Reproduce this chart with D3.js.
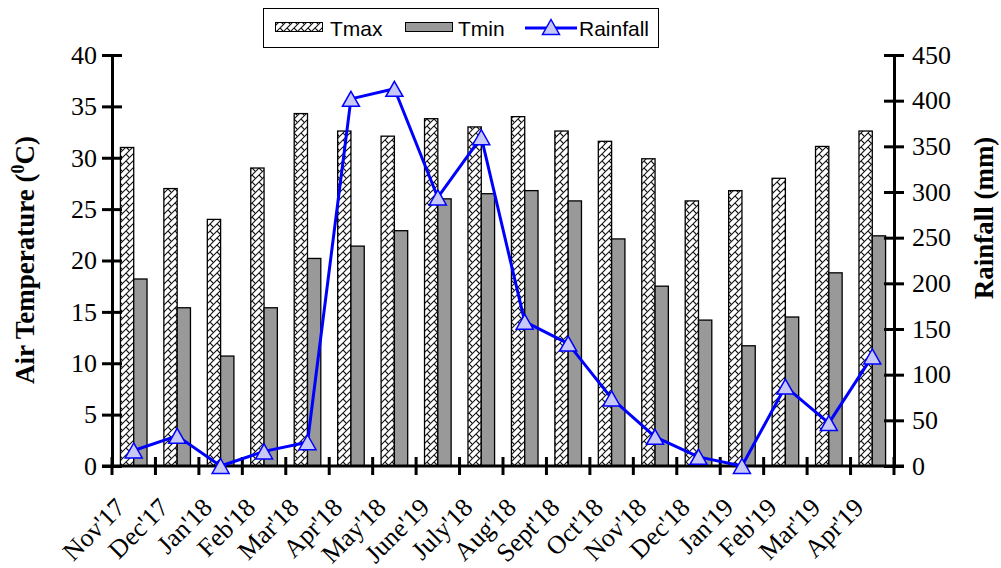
<!DOCTYPE html>
<html>
<head>
<meta charset="utf-8">
<script src="https://cdn.jsdelivr.net/npm/d3@7"></script>
<style>
body { margin: 0; background: #fff; }
svg { display: block; }
</style>
</head>
<body>
<svg id="plot"></svg>
<script>
var months = ["Nov'17", "Dec'17", "Jan'18", "Feb'18", "Mar'18", "Apr'18", "May'18", "June'19", "July'18",
    "Aug'18", "Sept'18", "Oct'18", "Nov'18", "Dec'18", "Jan'19", "Feb'19", "Mar'19", "Apr'19"];
var tmax = [31.0, 27.0, 24.0, 29.0, 34.3, 32.6, 32.1, 33.8, 33.0, 34.0, 32.6, 31.6, 29.9, 25.8, 26.8, 28.0, 31.1, 32.6];
var tmin = [18.2, 15.4, 10.7, 15.4, 20.2, 21.4, 22.9, 26.0, 26.5, 26.8, 25.8, 22.1, 17.5, 14.2, 11.7, 14.5, 18.8, 22.4];
var rainfall = [17, 33, 0, 16, 26, 402, 413, 294, 360, 158, 134, 74, 32, 10, 0, 87, 47, 120];
var tempTicks = [0, 5, 10, 15, 20, 25, 30, 35, 40];
var rainTicks = [0, 50, 100, 150, 200, 250, 300, 350, 400, 450];

(function() {
"use strict";

var SERIF = "'Times New Roman', 'Liberation Serif', serif";
var SANS = "Arial, 'Liberation Sans', sans-serif";
var GRAY = "#999999";
var BLUE = "#0000ff";
var LAVENDER = "#c8c8f6";

var m = {left: 112, right: 894, top: 55, bottom: 466};

var svg = d3.select("#plot").attr("width", 1001).attr("height", 568);

// hatch for Tmax
var pat = svg.append("defs").append("pattern")
    .attr("id", "hatch")
    .attr("patternUnits", "userSpaceOnUse")
    .attr("width", 7).attr("height", 7);
pat.append("rect").attr("width", 7).attr("height", 7).attr("fill", "#fff");
pat.append("path")
    .attr("d", "M0,7 L7,0 M-1,1 L1,-1 M6,8 L8,6 M0,0 L3,3")
    .attr("stroke", "#111").attr("stroke-width", 1.1).attr("fill", "none");

var x = d3.scaleBand().domain(months).range([m.left, m.right]).padding(0);
var y = d3.scaleLinear().domain([0, 40]).range([m.bottom, m.top]);
var yr = d3.scaleLinear().domain([0, 450]).range([m.bottom, m.top]);
var bw = 13.3;
var cx = function(i) { return x(months[i]) + x.bandwidth() / 2; };

var g = svg.append("g");

g.selectAll("rect.tmax")
    .data(tmax)
    .enter().append("rect")
        .attr("class", "tmax")
        .attr("x", function(d, i) { return cx(i) - bw; })
        .attr("y", function(d) { return y(d); })
        .attr("width", bw)
        .attr("height", function(d) { return y(0) - y(d); })
        .attr("fill", "url(#hatch)")
        .attr("stroke", "#000")
        .attr("stroke-width", 1.3);

g.selectAll("rect.tmin")
    .data(tmin)
    .enter().append("rect")
        .attr("class", "tmin")
        .attr("x", function(d, i) { return cx(i); })
        .attr("y", function(d) { return y(d); })
        .attr("width", bw)
        .attr("height", function(d) { return y(0) - y(d); })
        .attr("fill", GRAY)
        .attr("stroke", "#000")
        .attr("stroke-width", 1.3);

// axes
var styleAxis = function(sel) {
    sel.select(".domain").attr("stroke", "#000").attr("stroke-width", 3);
    sel.selectAll(".tick line").attr("stroke", "#000").attr("stroke-width", 3);
    sel.selectAll(".tick text")
        .attr("font-family", SERIF)
        .attr("font-size", 26)
        .attr("fill", "#000");
};

var gl = svg.append("g").attr("transform", "translate(" + m.left + ",0)");
gl.call(d3.axisLeft(y).tickValues(tempTicks).tickSize(10).tickSizeOuter(0).tickPadding(5));
gl.selectAll(".tick line").attr("x1", 10);
styleAxis(gl);

var gr = svg.append("g").attr("transform", "translate(" + m.right + ",0)");
gr.call(d3.axisRight(yr).tickValues(rainTicks).tickSize(10).tickSizeOuter(0).tickPadding(8));
gr.selectAll(".tick line").attr("x1", -10);
styleAxis(gr);

var gx = svg.append("g").attr("transform", "translate(0," + m.bottom + ")");
gx.append("line")
    .attr("x1", m.left - 10).attr("x2", m.right + 10)
    .attr("stroke", "#000").attr("stroke-width", 3);
gx.selectAll("line.xt")
    .data(d3.range(months.length + 1))
    .enter().append("line")
        .attr("class", "xt")
        .attr("x1", function(d) { return m.left + d * x.bandwidth(); })
        .attr("x2", function(d) { return m.left + d * x.bandwidth(); })
        .attr("y1", -9).attr("y2", 9)
        .attr("stroke", "#000").attr("stroke-width", 3);

svg.append("g").selectAll("text")
    .data(months)
    .enter().append("text")
        .attr("transform", function(d, i) { return "translate(" + (cx(i) - 7) + ",509) rotate(-45)"; })
        .attr("text-anchor", "end")
        .attr("font-family", SERIF)
        .attr("font-size", 26)
        .text(function(d) { return d; });

// rainfall line
var line = d3.line()
    .x(function(d, i) { return cx(i); })
    .y(function(d) { return yr(d); });
svg.append("path")
    .datum(rainfall)
    .attr("fill", "none")
    .attr("stroke", BLUE)
    .attr("stroke-width", 3)
    .attr("stroke-linejoin", "round")
    .attr("d", line);

var tri = "M0,-7.5 L8.5,7.5 L-8.5,7.5 Z";
svg.append("g").selectAll("path")
    .data(rainfall)
    .enter().append("path")
        .attr("transform", function(d, i) { return "translate(" + cx(i) + "," + yr(d) + ")"; })
        .attr("d", tri)
        .attr("fill", LAVENDER)
        .attr("stroke", BLUE)
        .attr("stroke-width", 1.5);

// axis titles
svg.append("text")
    .attr("transform", "translate(34,260) rotate(-90)")
    .attr("text-anchor", "middle")
    .attr("font-family", SERIF)
    .attr("font-weight", "bold")
    .attr("font-size", 27)
    .call(function(t) {
        t.append("tspan").text("Air Temperature (");
        t.append("tspan").attr("baseline-shift", "super").attr("font-size", 18).text("0");
        t.append("tspan").text("C)");
    });

svg.append("text")
    .attr("transform", "translate(993,218) rotate(-90)")
    .attr("text-anchor", "middle")
    .attr("font-family", SERIF)
    .attr("font-weight", "bold")
    .attr("font-size", 27)
    .text("Rainfall (mm)");

// legend
var lg = svg.append("g");
lg.append("rect")
    .attr("x", 263.5).attr("y", 8.5).attr("width", 395).attr("height", 39)
    .attr("fill", "#fff").attr("stroke", "#000").attr("stroke-width", 1);
lg.append("rect")
    .attr("x", 275.5).attr("y", 22.5).attr("width", 47).attr("height", 9)
    .attr("fill", "url(#hatch)").attr("stroke", "#000").attr("stroke-width", 1);
lg.append("rect")
    .attr("x", 405.5).attr("y", 22.5).attr("width", 47).attr("height", 9)
    .attr("fill", GRAY).attr("stroke", "#000").attr("stroke-width", 1);
lg.append("line")
    .attr("x1", 525).attr("x2", 577).attr("y1", 28).attr("y2", 28)
    .attr("stroke", BLUE).attr("stroke-width", 3);
lg.append("path")
    .attr("transform", "translate(551,27)")
    .attr("d", tri)
    .attr("fill", LAVENDER).attr("stroke", BLUE).attr("stroke-width", 1.5);
lg.selectAll("text.lt")
    .data([["Tmax", 330], ["Tmin", 458], ["Rainfall", 579]])
    .enter().append("text")
        .attr("class", "lt")
        .attr("x", function(d) { return d[1]; })
        .attr("y", 36)
        .attr("font-family", SANS)
        .attr("font-size", 21)
        .text(function(d) { return d[0]; });
}());
</script>
</body>
</html>
